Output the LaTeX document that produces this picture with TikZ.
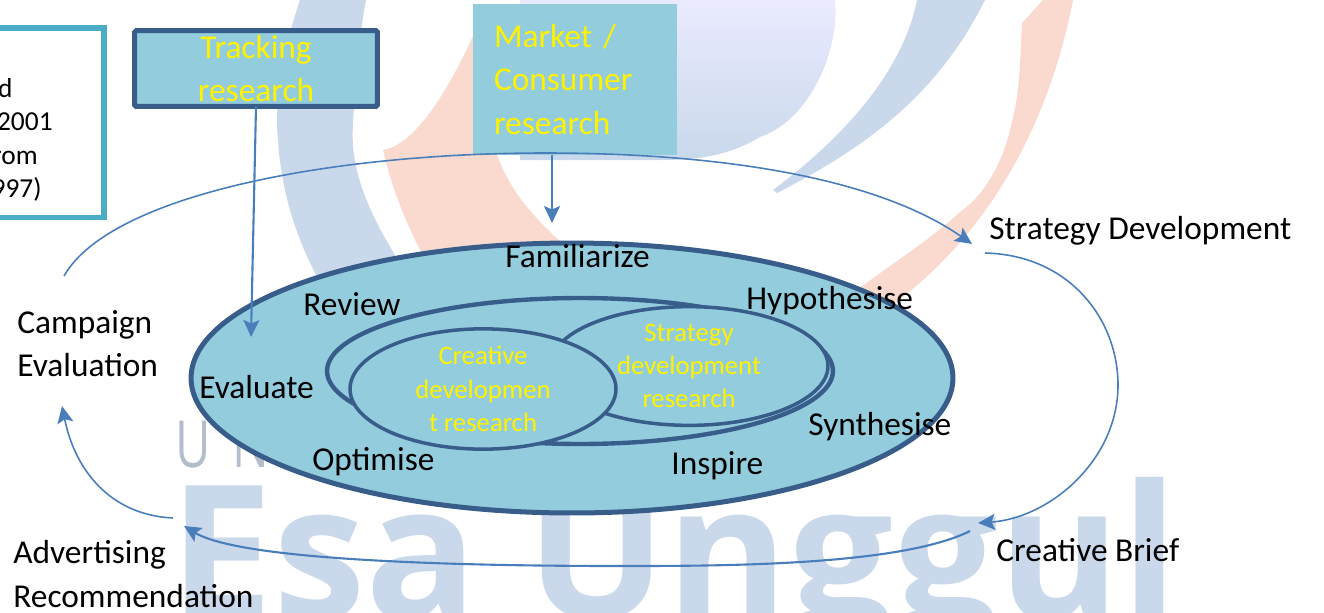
\documentclass[tikz,border=0pt]{standalone}
\usepackage{fontspec}
\setmainfont{Carlito}
\newfontfamily\wmfont{Open Sans}
\usetikzlibrary{arrows.meta,shapes.geometric}
\definecolor{paleblue}{HTML}{C9D8EB}
\definecolor{paleorange}{HTML}{FAD9CE}
\definecolor{boxfill}{HTML}{93CDDD}
\definecolor{ringblue}{HTML}{385D8A}
\definecolor{framecyan}{HTML}{4BACC6}
\definecolor{linkblue}{HTML}{4A7EBB}
\begin{document}
\begin{tikzpicture}[x=0.02cm,y=-0.02cm,
		label/.style={font=\fontsize{19}{24.5}\selectfont,inner sep=0,align=left},
		ring/.style={ellipse,draw=ringblue,fill=boxfill,inner sep=0,outer sep=0},
		inside/.style={ring,text=yellow,font=\fontsize{15.2}{18.9}\selectfont,align=center,line width=2pt},
		link/.style={draw=linkblue,line width=0.9pt,-{Stealth[length=0.34cm,width=0.32cm,inset=0.07cm]}},
		note/.style={font=\fontsize{15.6}{19}\selectfont,inner sep=0,anchor=base east}]
	\useasboundingbox (0,0) rectangle (1324,612);
	\clip (0,0) rectangle (1324,612);
	\fill[paleblue] (300,0) .. controls (283,50) and (274,100) .. (278,140) .. controls (282,200) and (300,250) .. (330,300) -- (420,300) -- (392,250) .. controls (365,205) and (350,165) .. (353,125) .. controls (355,80) and (360,30) .. (366,0) -- cycle;
	\fill[paleorange] (383,150) .. controls (415,145) and (450,90) .. (480,20) -- (497,155) .. controls (510,190) and (530,215) .. (570,250) -- (440,290) -- (420,250) .. controls (400,210) and (390,180) .. (383,150) -- cycle;
	\shade[top color=blue!8!white,bottom color=paleblue] (520,0) -- (835,0) .. controls (840,50) and (810,120) .. (760,137) .. controls (730,155) and (700,160) .. (660,160) -- (520,160) -- cycle;
	\fill[paleblue] (917,0) .. controls (905,60) and (860,125) .. (773,190) -- (777,193) .. controls (860,150) and (935,100) .. (985,0) -- cycle;
	\fill[paleorange] (1043,0) -- (1022,23) .. controls (1020,60) and (1020,90) .. (1013,117) .. controls (1005,160) and (985,195) .. (960,212) .. controls (930,240) and (890,265) .. (850,295) -- (870,320) .. controls (950,270) and (1040,170) .. (1073,0) -- cycle;
	\node[text=gray!30!paleblue,font=\wmfont\fontsize{37}{40}\selectfont,inner sep=0,anchor=base west,xscale=0.75] (univ) at (175,467) {U\hspace{0.45em}N};
	\node[text=paleblue,font=\wmfont\bfseries\fontsize{105.8}{110}\selectfont,inner sep=0,anchor=base west] (esa) at (169,618) {Esa Unggul};

	\draw[framecyan,line width=2.85pt,fill=white] (-20,28) rectangle (104,217);
	\node[note] (noteA) at (13,97) {d};
	\node[note] (noteB) at (53,130) {2001};
	\node[note] (noteC) at (38,164) {rom};
	\node[note] (noteD) at (42,197) {997)};

	\node[ring,line width=2.85pt,minimum width=15.24cm,minimum height=5.4cm] (outer) at (572,378) {};
	\node[ring,line width=2.5pt,minimum width=10.12cm,minimum height=2.92cm] (middle) at (580,371) {};
	\node[inside,minimum width=5.56cm,minimum height=1.62cm] (strategy) at (689,366) {Strategy\\development\\research};
	\node[inside,minimum width=5.32cm,minimum height=1.24cm] (creative) at (483,389) {Creative\\developmen\\t research};

	\node[draw=ringblue,fill=boxfill,line width=2.85pt,rounded corners=1pt,text=yellow,font=\fontsize{19}{24.5}\selectfont,align=center,inner sep=0,outer sep=0,minimum width=4.86cm,minimum height=1.52cm] (tracking) at (256,68.5) {Tracking\\research};
	\node[fill=boxfill,text=yellow,font=\fontsize{19}{24.5}\selectfont,align=left,inner xsep=0.42cm,inner ysep=0,outer sep=0,text width=3.24cm,minimum height=3.02cm] (market) at (575,79.5) {Market /\\Consumer\\research};

	\node[label,anchor=base west] (familiarize) at (505,267) {Familiarize};
	\node[label,anchor=base west] (review) at (303,315) {Review};
	\node[label,anchor=base west] (hypothesise) at (746,309) {Hypothesise};
	\node[label,anchor=base west] (evaluate) at (199,398) {Evaluate};
	\node[label,anchor=base west] (synthesise) at (808,435) {Synthesise};
	\node[label,anchor=base west] (optimise) at (312,470) {Optimise};
	\node[label,anchor=base west] (inspire) at (671,474) {Inspire};
	\node[label,anchor=west] (campaign) at (17,343.5) {Campaign\\Evaluation};
	\node[label,anchor=base west] (stratdev) at (989,239) {Strategy Development};
	\node[label,anchor=base west] (brief) at (996,561) {Creative Brief};
	\node[label,anchor=west] (advert) at (13,574) {Advertising\\Recommendation};

	\coordinate (C1) at (64,276);
	\coordinate (C2) at (972,244);
	\coordinate (S1) at (985,253);
	\coordinate (S2) at (978,523);
	\coordinate (B1) at (970,531);
	\coordinate (B2) at (184,526);
	\coordinate (A1) at (173,518);
	\coordinate (A2) at (62,406);
	\coordinate (T1) at (251,337);
	\coordinate (M1) at (552,155);
	\coordinate (M2) at (552,223);
	\draw[link] (C1) .. controls (110,195) and (330,153) .. (545,153) .. controls (730,153) and (880,180) .. (C2);
	\draw[link] (S1) .. controls (1070,255) and (1118,320) .. (1118,385) .. controls (1118,460) and (1050,518) .. (S2);
	\draw[link,line width=1.2pt] (B1) .. controls (900,566) and (720,566) .. (620,566) .. controls (450,566) and (240,560) .. (B2);
	\draw[link] (A1) .. controls (110,515) and (75,470) .. (A2);
	\draw[link,line width=1.2pt] (tracking.south) -- (T1);
	\draw[link,line width=1.2pt] (M1) -- (M2);
\end{tikzpicture}
\end{document}
